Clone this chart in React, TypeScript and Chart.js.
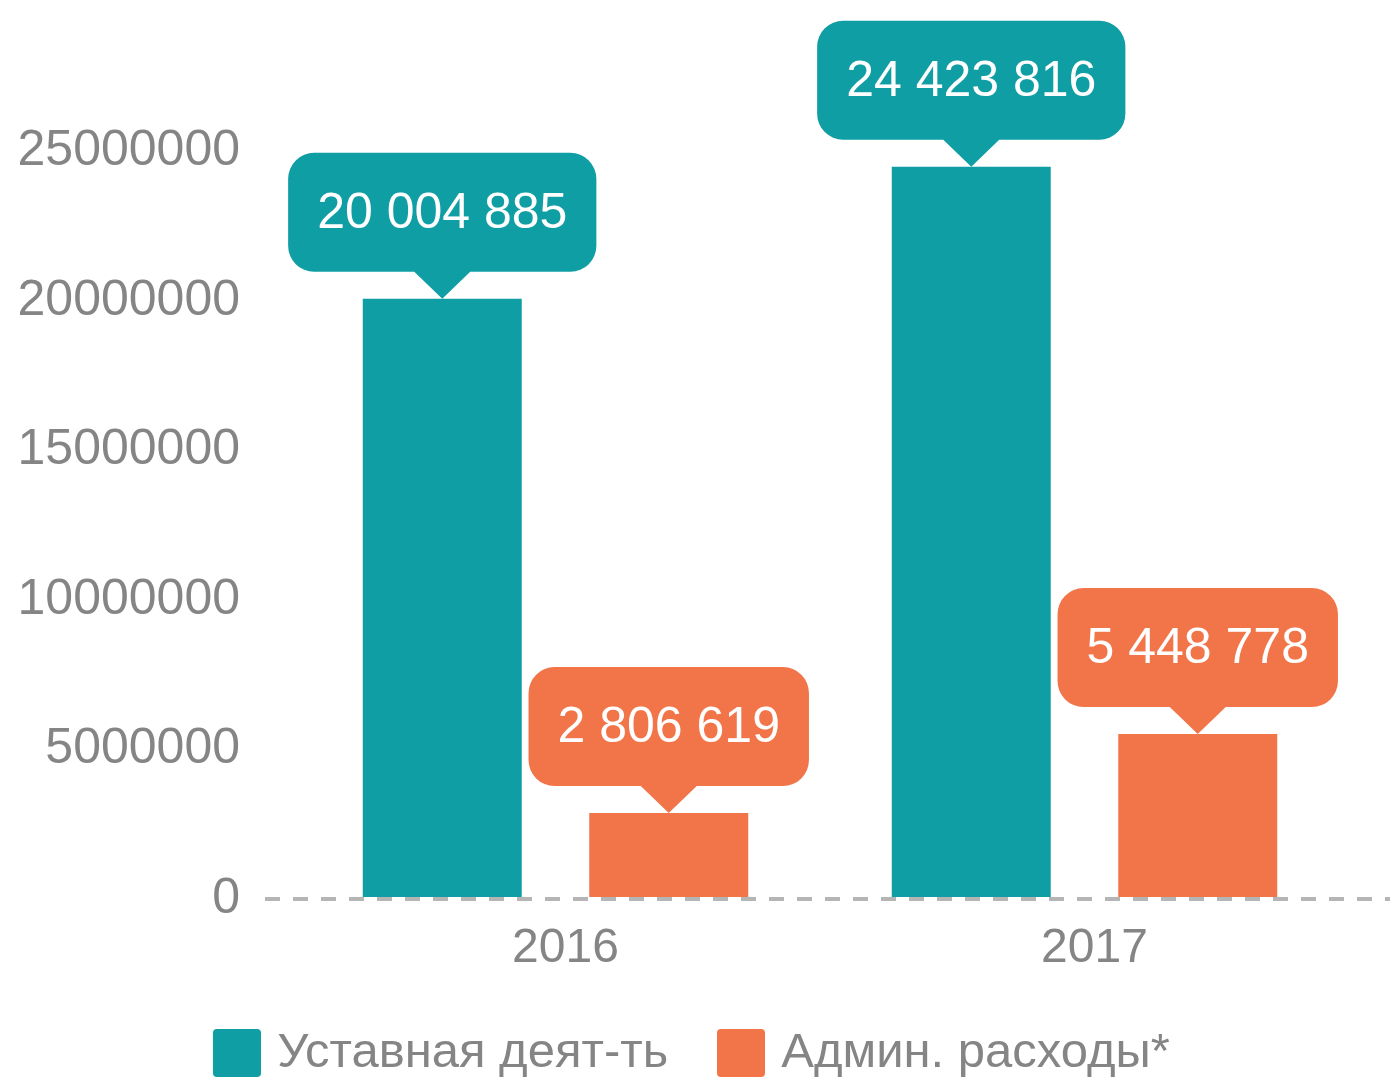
import React, { useEffect, useRef } from "react";
import { Chart, registerables } from "chart.js";

Chart.register(...registerables);

const categories = ["2016", "2017"];
const seriesNames = ["Уставная деят-ть", "Админ. расходы*"];
const statutoryValues = [20004885, 24423816];
const adminValues = [2806619, 5448778];
const yTickValues = [0, 5000000, 10000000, 15000000, 20000000, 25000000];
const seriesColors = ["#109EA5", "#F2754A"];

const FONT = '"Liberation Sans", Arial, Helvetica, sans-serif';
const TEXT_GRAY = "#858585";

function formatValue(v: number): string {
  return Math.round(v).toString().replace(/\B(?=(\d{3})+(?!\d))/g, " ");
}

function makeLegendSwatch(color: string): HTMLCanvasElement {
  const c = document.createElement("canvas");
  c.width = 56;
  c.height = 48;
  const g = c.getContext("2d")!;
  const x = 8, y = 0, w = 48, h = 48, r = 4;
  g.beginPath();
  g.moveTo(x + r, y);
  g.arcTo(x + w, y, x + w, y + h, r);
  g.arcTo(x + w, y + h, x, y + h, r);
  g.arcTo(x, y + h, x, y, r);
  g.arcTo(x, y, x + w, y, r);
  g.closePath();
  g.fillStyle = color;
  g.fill();
  return c;
}

const calloutPlugin = {
  id: "callouts",
  afterDatasetsDraw(chart: any) {
    const ctx: CanvasRenderingContext2D = chart.ctx;
    const area = chart.chartArea;
    ctx.save();
    // dashed zero line
    ctx.strokeStyle = "#B5B5B5";
    ctx.lineWidth = 4;
    ctx.setLineDash([15, 13]);
    ctx.beginPath();
    const yz = area.bottom + 2;
    ctx.moveTo(area.left - 26, yz);
    ctx.lineTo(chart.width, yz);
    ctx.stroke();
    ctx.setLineDash([]);

    ctx.font = `50px ${FONT}`;
    chart.data.datasets.forEach((ds: any, di: number) => {
      const meta = chart.getDatasetMeta(di);
      meta.data.forEach((el: any, i: number) => {
        const v = ds.data[i] as number;
        const text = formatValue(v);
        const tw = ctx.measureText(text).width;
        const w = tw + 58;
        const h = 119;
        const r = 26;
        const ph = 27;
        const pw = 28;
        const x = el.x;
        const tip = el.y;
        const bottom = tip - ph;
        const top = bottom - h;
        const left = x - w / 2;
        const right = x + w / 2;
        ctx.beginPath();
        ctx.moveTo(left + r, top);
        ctx.lineTo(right - r, top);
        ctx.arcTo(right, top, right, top + r, r);
        ctx.lineTo(right, bottom - r);
        ctx.arcTo(right, bottom, right - r, bottom, r);
        ctx.lineTo(x + pw, bottom);
        ctx.lineTo(x, tip);
        ctx.lineTo(x - pw, bottom);
        ctx.lineTo(left + r, bottom);
        ctx.arcTo(left, bottom, left, bottom - r, r);
        ctx.lineTo(left, top + r);
        ctx.arcTo(left, top, left + r, top, r);
        ctx.closePath();
        ctx.fillStyle = ds.backgroundColor;
        ctx.fill();
        ctx.fillStyle = "#FFFFFF";
        ctx.textAlign = "center";
        ctx.textBaseline = "middle";
        ctx.fillText(text, x, (top + bottom) / 2 + 2);
      });
    });
    ctx.restore();
  },
};

export default function App() {
  const canvasRef = useRef<HTMLCanvasElement | null>(null);

  useEffect(() => {
    if (!canvasRef.current) return;
    const swatches = seriesColors.map((c) => makeLegendSwatch(c));
    const chart = new Chart(canvasRef.current, {
      type: "bar",
      data: {
        labels: categories,
        datasets: [
          {
            label: seriesNames[0],
            data: statutoryValues,
            backgroundColor: seriesColors[0],
            borderWidth: 0,
          },
          {
            label: seriesNames[1],
            data: adminValues,
            backgroundColor: seriesColors[1],
            borderWidth: 0,
          },
        ],
      },
      options: {
        responsive: false,
        devicePixelRatio: 1,
        animation: false,
        datasets: {
          bar: {
            categoryPercentage: 0.8563,
            barPercentage: 0.702,
          },
        },
        layout: {
          padding: { top: 149.5, right: 7, bottom: 0, left: 0 },
        },
        plugins: {
          tooltip: { enabled: false },
          legend: {
            position: "bottom",
            align: "center",
            maxHeight: 101.5,
            labels: {
              usePointStyle: true,
              pointStyleWidth: 39.5,
              boxHeight: 48,
              padding: 49,
              color: TEXT_GRAY,
              font: { family: FONT, size: 49 },
              generateLabels: (ch: any) =>
                Chart.defaults.plugins.legend.labels
                  .generateLabels(ch)
                  .map((it: any, i: number) => ({ ...it, pointStyle: swatches[i] })),
            },
          },
        },
        scales: {
          x: {
            grid: { display: false, drawTicks: false },
            border: { display: false },
            ticks: {
              color: TEXT_GRAY,
              font: { family: FONT, size: 48 },
              padding: 23,
              labelOffset: 10,
            },
            afterFit: (s: any) => {
              s.height = 82.5;
            },
          },
          y: {
            min: 0,
            max: 25000000,
            grid: { display: false, drawTicks: false },
            border: { display: false },
            afterBuildTicks: (s: any) => {
              s.ticks = yTickValues.map((v) => ({ value: v }));
            },
            ticks: {
              color: TEXT_GRAY,
              font: { family: FONT, size: 50 },
              padding: 51,
              labelOffset: 2,
              callback: (v: any) => String(v),
            },
            afterFit: (s: any) => {
              s.width = 291;
            },
          },
          yRight: {
            position: "right",
            display: true,
            grid: { display: false, drawTicks: false },
            border: { display: false },
            ticks: { display: false },
            afterFit: (s: any) => {
              s.width = 34;
            },
          },
        },
      },
      plugins: [calloutPlugin],
    } as any);
    return () => chart.destroy();
  }, []);

  return (
    <div style={{ position: "absolute", left: 0, top: 0, width: 1390, height: 1081, background: "#FFFFFF" }}>
      <canvas ref={canvasRef} width={1390} height={1081} style={{ display: "block" }} />
    </div>
  );
}
